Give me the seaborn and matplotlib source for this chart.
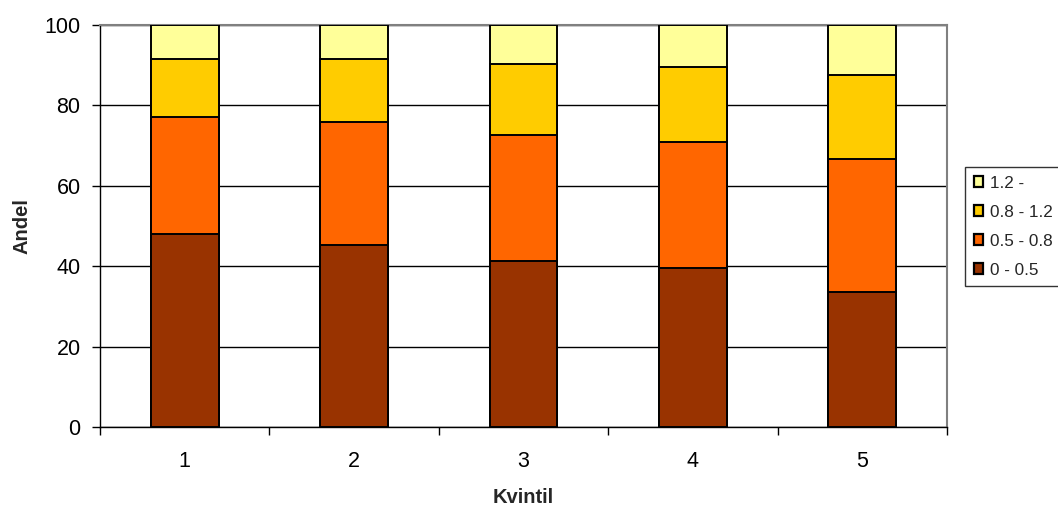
import matplotlib
matplotlib.use("Agg")
import matplotlib.pyplot as plt
from matplotlib.patches import Patch
from matplotlib.ticker import FixedLocator
import numpy as np
import pandas as pd
import seaborn as sns

# Share of households per price band, by quintile
quintiles = ["1", "2", "3", "4", "5"]
band_labels = ["0 - 0.5", "0.5 - 0.8", "0.8 - 1.2", "1.2 -"]
band_0_05 = [48.1, 45.3, 41.4, 39.6, 33.7]
band_05_08 = [29.1, 30.6, 31.2, 31.3, 32.9]
band_08_12 = [14.3, 15.6, 17.7, 18.6, 20.9]
band_12_up = [8.5, 8.5, 9.7, 10.5, 12.5]
band_colors = ["#993300", "#FF6600", "#FFCC00", "#FFFF99"]

sns.set_theme(style="white")
plt.rcParams["font.family"] = ["Liberation Sans", "DejaVu Sans"]

series = [band_0_05, band_05_08, band_08_12, band_12_up]
cum = np.cumsum(np.array(series), axis=0)
frames = []
for lab, vals in zip(band_labels, cum):
    frames.append(pd.DataFrame({"Kvintil": quintiles, "Andel": vals, "band": lab}))
df = pd.concat(frames, ignore_index=True)

fig = plt.figure(figsize=(10.58, 5.07), dpi=100)
ax = fig.add_axes([100 / 1058, 80 / 507, 847 / 1058, 402 / 507])

# Stack by drawing cumulative heights from the top band down
for lab, color in reversed(list(zip(band_labels, band_colors))):
    sns.barplot(data=df[df["band"] == lab], x="Kvintil", y="Andel", order=quintiles,
                color=color, width=0.4, edgecolor="black", linewidth=1.4,
                saturation=1, ax=ax, zorder=3)

ax.set_xlim(-0.5, 4.5)
ax.set_ylim(0, 100)
ax.set_yticks([0, 20, 40, 60, 80, 100])
ax.yaxis.grid(True, color="black", linewidth=1.0, zorder=0)
ax.set_axisbelow(True)

ax.tick_params(axis="x", which="major", length=0, pad=17, labelsize=15.5, colors="black")
ax.xaxis.set_minor_locator(FixedLocator(np.arange(-0.5, 5.0, 1.0)))
ax.tick_params(axis="x", which="minor", length=6, width=1, color="black", direction="out", bottom=True)
ax.tick_params(axis="y", length=6, width=1, direction="out", left=True, pad=8,
               labelsize=15.5, colors="black")

for side in ["top", "right"]:
    ax.spines[side].set_color("#808080")
    ax.spines[side].set_linewidth(1.5)
for side in ["left", "bottom"]:
    ax.spines[side].set_color("black")
    ax.spines[side].set_linewidth(1.0)

ax.set_xlabel("Kvintil", fontsize=14.5, fontweight="bold", labelpad=12)
ax.set_ylabel("Andel", fontsize=14.5, fontweight="bold", labelpad=9)

handles = [Patch(facecolor=c, edgecolor="black", linewidth=1.6, label=l)
           for l, c in zip(band_labels, band_colors)]
leg = fig.legend(handles=handles[::-1], loc="upper left",
                 bbox_to_anchor=(965 / 1058, 1 - 167 / 507), fontsize=12.3,
                 frameon=True, fancybox=False, handlelength=0.55, handleheight=0.55,
                 handletextpad=0.4, borderpad=0.5, labelspacing=0.82, borderaxespad=0)
leg.get_frame().set_edgecolor("black")
leg.get_frame().set_linewidth(1.0)

fig.savefig("out.png", dpi=100)
